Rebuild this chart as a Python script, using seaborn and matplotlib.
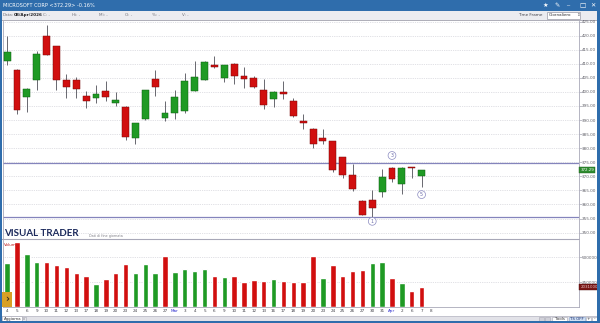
import numpy as np
import pandas as pd
import matplotlib
matplotlib.use("Agg")
import matplotlib.pyplot as plt
import matplotlib.transforms as mtransforms
from matplotlib.patches import Rectangle
import seaborn as sns

sns.set_theme(style="white")
plt.rcParams["font.family"] = ["DejaVu Sans"]

# ---------------- data ----------------
day_labels = ["4", "5", "6", "9", "10", "11", "12", "13", "17", "18", "19", "20", "23", "24",
              "25", "26", "27", "Mar", "3", "4", "5", "6", "9", "10", "11", "12", "13", "16",
              "17", "18", "19", "20", "23", "24", "25", "26", "27", "30", "31", "Apr", "2",
              "6", "7", "8"]
opens = [410.9, 407.9, 398.3, 404.3, 419.8, 416.2, 404.3, 404.3, 398.6, 397.9, 400.4, 396.1,
         394.8, 383.7, 390.2, 404.4, 390.6, 392.6, 393.1, 400.4, 404.3, 409.6, 405.0, 410.0,
         405.6, 404.9, 400.7, 397.6, 399.8, 396.9, 389.8, 386.9, 383.7, 382.4, 376.8, 370.6,
         361.4, 361.6, 364.6, 373.0, 367.1, 373.2, 370.0]
highs = [419.7, 408.2, 401.3, 414.7, 423.6, 416.4, 406.2, 405.2, 400.2, 402.3, 404.0, 399.9,
         395.0, 389.0, 400.8, 407.6, 396.6, 400.8, 406.6, 410.8, 411.0, 412.9, 409.6, 410.2,
         408.8, 405.8, 404.6, 400.3, 404.0, 397.7, 392.2, 387.1, 386.9, 382.6, 377.0, 374.2,
         361.6, 365.0, 372.6, 373.3, 373.3, 373.4, 372.4]
lows = [409.4, 392.2, 392.8, 400.7, 413.0, 400.8, 397.9, 397.9, 394.3, 396.1, 396.6, 394.9,
        383.0, 381.5, 390.0, 398.5, 389.6, 390.4, 392.6, 400.2, 404.1, 408.4, 403.4, 402.9,
        401.3, 401.5, 394.0, 394.5, 397.3, 391.0, 386.9, 380.0, 381.5, 371.7, 369.5, 364.7,
        356.1, 355.5, 362.8, 367.9, 363.8, 369.3, 366.1]
closes = [414.1, 393.6, 401.1, 413.5, 413.2, 404.3, 401.7, 401.1, 396.7, 399.3, 398.2, 397.2,
          384.1, 388.9, 400.5, 401.7, 392.6, 398.3, 403.9, 405.2, 410.7, 408.8, 409.4, 405.7,
          404.7, 401.7, 395.4, 400.1, 399.2, 391.6, 389.0, 381.5, 382.7, 372.4, 370.6, 365.5,
          356.4, 358.7, 369.9, 369.1, 373.1, 372.9, 372.29]
volumes = [4460000, 6560000, 5330000, 4530000, 4500000, 4200000, 4060000, 3400000, 3160000,
           2300000, 2800000, 3400000, 4330000, 3400000, 4330000, 3430000, 5130000, 3530000,
           3800000, 3600000, 3860000, 3100000, 3030000, 3130000, 2530000, 2700000, 2630000,
           2800000, 2630000, 2560000, 2500000, 5130000, 2900000, 4260000, 3100000, 3660000,
           3730000, 4430000, 4530000, 2930000, 2430000, 1630000, 2031000]
price_ticks = [350, 355, 360, 365, 370, 375, 380, 385, 390, 395, 400, 405, 410, 415, 420, 425]
vol_ticks = [2500000, 5000000]
level_lines = [374.7, 355.6]
mark_idx = [37, 39, 42]
mark_price = [354.0, 377.4, 363.5]
mark_text = ["1", "3", "5"]
title_text = "MICROSOFT CORP <372.29> -0.16%"
last_price = 372.29
last_volume = 2031000

# ---------------- styles ----------------
RED = "#d10f0f"
RED_EDGE = "#7a0a0a"
GREEN = "#1f9a24"
GREEN_EDGE = "#0e5e12"
BLUE = "#2f6dac"
GRID = "#c4c4cc"
LEVEL = "#8484bc"
TXT = "#606068"

W, H = 600, 323
fig = plt.figure(figsize=(6, 3.23), dpi=100)
fig.patch.set_facecolor("white")


def R(x0, y0, x1, y1):
    return [x0 / W, 1 - y1 / H, (x1 - x0) / W, (y1 - y0) / H]


def ft(x, y, s, **kw):
    fig.text(x / W, 1 - y / H, s, **kw)


# background chrome
bg = fig.add_axes([0, 0, 1, 1], zorder=0)
bg.set_xlim(0, W)
bg.set_ylim(H, 0)
bg.axis("off")
bg.add_patch(Rectangle((0, 0), W, 10.5, color=BLUE, lw=0))
bg.add_patch(Rectangle((0, 10.5), W, 9.5, color="#ececf0", lw=0))
bg.plot([0, W], [20, 20], color="#a0a0ac", lw=0.6)
bg.add_patch(Rectangle((0, 315.5), W, 6, color="#e2e2e8", lw=0))
bg.plot([0, W], [315.5, 315.5], color="#b8b8c4", lw=0.5)
bg.plot([0, 579], [239, 239], color="#a8a8b8", lw=0.8)
# dropdown
bg.add_patch(Rectangle((547, 12), 33, 7, fc="white", ec="#9a9aa6", lw=0.5))
# bottom-right buttons
bg.add_patch(Rectangle((539, 316.5), 5, 4, fc="#d0d0d8", ec="#a8a8b4", lw=0.4))
bg.add_patch(Rectangle((545, 316.5), 5, 4, fc="#d0d0d8", ec="#a8a8b4", lw=0.4))
bg.add_patch(Rectangle((552, 316.5), 15, 4, fc="white", ec="#a8a8b4", lw=0.4))
bg.add_patch(Rectangle((569, 316.5), 16, 4, fc="#cfe0f4", ec="#8aa8d0", lw=0.4))
bg.add_patch(Rectangle((586, 316.5), 5, 4, fc="white", ec="#a8a8b4", lw=0.4))
bg.add_patch(Rectangle((592, 316.5), 5, 4, fc="white", ec="#a8a8b4", lw=0.4))
bg.add_patch(Rectangle((2, 316), 20, 5, fc="white", ec="#a8a8b4", lw=0.4))
bg.add_patch(Rectangle((22, 316.5), 4, 4, fc="#e8e8ee", ec="#a8a8b4", lw=0.4))

# ---------------- price panel ----------------
axp = fig.add_axes(R(3, 20.5, 578.5, 238.5), zorder=2)
axp.set_facecolor("none")
n = len(closes)
idx = np.arange(n)
xl = (-0.42, 57.9)
axp.set_xlim(*xl)
axp.set_ylim(347.9, 425.36)

for i in range(n):
    o, h, l, c = opens[i], highs[i], lows[i], closes[i]
    up = c >= o
    axp.vlines(i, l, h, color="#505058", lw=0.6, zorder=3)
    bottom = min(o, c)
    height = max(abs(c - o), 0.35)
    axp.bar(i, height, bottom=bottom, width=0.7,
            color=GREEN if up else RED, edgecolor=GREEN_EDGE if up else RED_EDGE,
            linewidth=0.35, zorder=4)

for lvl in level_lines:
    axp.axhline(lvl, color=LEVEL, lw=0.9, zorder=2)

for i, p, t in zip(mark_idx, mark_price, mark_text):
    axp.text(i, p, t, ha="center", va="center", fontsize=3.4, color="#6a6aa8", zorder=6,
             bbox=dict(boxstyle="circle,pad=0.3", fc="white", ec="#8a8ac0", lw=0.5))

axp.set_yticks(price_ticks)
axp.set_yticklabels([f"{t:.2f}" for t in price_ticks])
axp.yaxis.tick_right()
axp.tick_params(axis="y", labelsize=3.0, labelcolor=TXT, length=1.8, width=0.4,
                color="#9090a0", pad=0.6, right=True)
axp.set_xticks([])
axp.grid(axis="y", ls=(0, (1, 1.6)), color=GRID, lw=0.5)
axp.set_axisbelow(True)
for s in ["top", "bottom"]:
    axp.spines[s].set_visible(False)
for s in ["left", "right"]:
    axp.spines[s].set_color("#a8a8b8")
    axp.spines[s].set_linewidth(0.6)

trp = mtransforms.blended_transform_factory(axp.transAxes, axp.transData)
axp.text(1.003, last_price, f"{last_price:.2f}", transform=trp, ha="left", va="center",
         fontsize=2.9, color="white", zorder=7,
         bbox=dict(boxstyle="square,pad=0.25", fc="#2e8b2e", ec="#1c5c1c", lw=0.3))

# ---------------- volume panel ----------------
axv = fig.add_axes(R(3, 240, 578.5, 307.3), zorder=2)
axv.set_facecolor("none")
prev = [opens[0]] + closes[:-1]
dirs = ["up" if c >= p else "down" for c, p in zip(closes, prev)]
df = pd.DataFrame({"x": idx, "v": volumes, "dir": dirs})
sns.barplot(data=df, x="x", y="v", hue="dir", palette={"up": GREEN, "down": RED},
            native_scale=True, dodge=False, legend=False, width=0.55, saturation=1,
            errorbar=None, ax=axv, zorder=3)
axv.set_xlim(*xl)
axv.set_ylim(0, 6.73e6)
axv.set_xlabel("")
axv.set_ylabel("")
axv.set_xticks(np.arange(len(day_labels)))
axv.set_xticklabels(day_labels)
axv.tick_params(axis="x", labelsize=3.0, labelcolor="#404048", length=0, pad=1.2)
for lab in axv.get_xticklabels():
    if lab.get_text() in ("Mar", "Apr"):
        lab.set_color("#3030d0")
axv.set_yticks(vol_ticks)
axv.set_yticklabels([str(v) for v in vol_ticks])
axv.yaxis.tick_right()
axv.tick_params(axis="y", labelsize=3.0, labelcolor=TXT, length=1.8, width=0.4,
                color="#9090a0", pad=0.6, right=True)
axv.grid(axis="y", ls=(0, (1, 1.6)), color=GRID, lw=0.5)
axv.set_axisbelow(True)
axv.spines["top"].set_visible(False)
for s in ["left", "right", "bottom"]:
    axv.spines[s].set_color("#a8a8b8")
    axv.spines[s].set_linewidth(0.6)
axv.text(0.002, 0.93, "Volume", transform=axv.transAxes, fontsize=3.0, color="#c02020",
         ha="left", va="center", zorder=6)
trv = mtransforms.blended_transform_factory(axv.transAxes, axv.transData)
axv.text(1.003, last_volume, str(last_volume), transform=trv, ha="left", va="center",
         fontsize=2.9, color="#e8c8c8", zorder=7,
         bbox=dict(boxstyle="square,pad=0.25", fc="#7a1616", ec="#4a0a0a", lw=0.3))

# ---------------- foreground chrome ----------------
fg = fig.add_axes([0, 0, 1, 1], zorder=8)
fg.set_xlim(0, W)
fg.set_ylim(H, 0)
fg.axis("off")
fg.patch.set_alpha(0)
fg.add_patch(Rectangle((0, 0), 2, H, color=BLUE, lw=0))
fg.add_patch(Rectangle((597, 0), 3, H, color=BLUE, lw=0))
fg.add_patch(Rectangle((0, 321), W, 2, color=BLUE, lw=0))
fg.add_patch(Rectangle((2, 291.5), 10, 15, color="#d8a024", lw=0))
fg.text(7, 299, "›", ha="center", va="center", fontsize=7, color="#3a3020", weight="bold")

# title bar texts
ft(3, 5.5, title_text, fontsize=3.6, color="white", va="center", ha="left")
ft(545, 5.5, "★", fontsize=4.5, color="white", va="center", ha="center")
ft(557, 5.5, "✎", fontsize=4.5, color="white", va="center", ha="center")
ft(568, 6.5, "_", fontsize=4.5, color="white", va="bottom", ha="center")
ft(582, 5.5, "☐", fontsize=5, color="white", va="center", ha="center")
ft(593, 5.5, "✕", fontsize=4.5, color="white", va="center", ha="center")

# toolbar texts
ft(3, 15.3, "Data:", fontsize=3.0, color="#707078", va="center")
ft(13.5, 15.3, "08/Apr/2026", fontsize=3.0, color="#202024", va="center", weight="bold")
for x, s in [(43, "C: -"), (72, "Hi: -"), (99, "Mi: -"), (125, "O: -"), (152, "%: -"),
             (182, "V: -")]:
    ft(x, 15.3, s, fontsize=3.0, color="#707078", va="center")
ft(518, 15.3, "Time Frame", fontsize=3.0, color="#404048", va="center")
ft(549, 15.3, "Giornaliero", fontsize=3.0, color="#303034", va="center")
ft(577.5, 15.3, "⇕", fontsize=3.2, color="#505058", va="center", ha="center")

# brand
ft(4, 233.5, "VISUAL TRADER", fontsize=7, color="#1c2a5c", va="center", ha="left",
   family=["Lato", "DejaVu Sans"], weight="bold")
ft(89, 236.5, "Dati di fine giornata", fontsize=2.4, color="#808088", va="center")

# bottom strip texts
ft(3.5, 318.8, "Aggiorna", fontsize=2.8, color="#303034", va="center")
ft(24, 318.6, "x", fontsize=2.4, color="#707078", va="center", ha="center")
ft(559.5, 318.6, "Tools", fontsize=2.8, color="#303034", va="center", ha="center")
ft(577, 318.6, "TS OFF", fontsize=2.8, color="#1a2a6a", va="center", ha="center")
ft(588.5, 318.6, "+", fontsize=3.2, color="#303034", va="center", ha="center")
ft(594.5, 318.6, "-", fontsize=3.2, color="#303034", va="center", ha="center")

fig.savefig("out.png", dpi=100)
